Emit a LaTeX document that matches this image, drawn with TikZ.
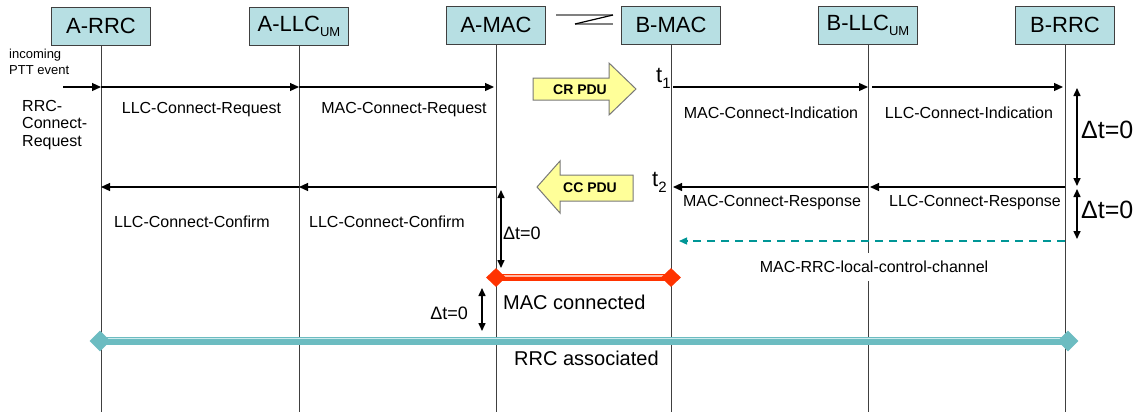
\documentclass[tikz,border=0pt]{standalone}
\usepackage{fontspec}
\setmainfont{Liberation Sans}
\usetikzlibrary{arrows.meta,shapes.geometric}

\definecolor{boxfill}{RGB}{183,223,227}
\definecolor{lifegray}{RGB}{64,64,64}
\definecolor{pdufill}{RGB}{255,255,153}
\definecolor{pdudraw}{RGB}{120,120,120}
\definecolor{macred}{RGB}{255,51,0}
\definecolor{macpink}{RGB}{255,185,165}
\definecolor{rrcteal}{RGB}{108,188,193}
\definecolor{rrclight}{RGB}{205,235,237}
\definecolor{ctrlteal}{RGB}{0,150,150}
\definecolor{linkgray}{RGB}{128,128,128}

% font size in bp: size, baseline skip
\newcommand\setfs[2]{\fontsize{#1bp}{#2bp}\selectfont}

\tikzset{
  entity/.style={draw=lifegray, line width=1bp, fill=boxfill,
    minimum width=99bp, minimum height=38bp, inner sep=0pt, font=\setfs{22}{24}},
  life/.style={draw=lifegray, line width=1bp},
  msg/.style={draw=black, line width=1.2bp, -{Triangle[length=9bp,width=8bp]}},
  ctrl/.style={draw=ctrlteal, line width=1.3bp, dash pattern=on 8bp off 6bp,
    -{Triangle[length=8bp,width=7bp]}},
  delta/.style={draw=black, line width=1.5bp,
    {Triangle[length=8bp,width=7bp]}-{Triangle[length=8bp,width=7bp]}},
  lbl/.style={font=\setfs{16}{17.5}, inner sep=0pt},
  dlbl/.style={font=\setfs{18}{20}, inner sep=0pt},
  biglbl/.style={font=\setfs{25}{27}, inner sep=0pt},
  state/.style={font=\setfs{20}{22}, inner sep=0pt},
  tlbl/.style={font=\setfs{22}{24}, inner sep=0pt},
  pdu/.style={fill=pdufill, draw=pdudraw, line width=1bp},
  pdutext/.style={font=\setfs{14}{16}\bfseries, inner sep=0pt},
  macdia/.style={diamond, aspect=1, fill=macred, minimum width=20bp,
    minimum height=19bp, inner sep=0pt},
  rrcdia/.style={diamond, aspect=1, fill=rrcteal, minimum width=21bp,
    minimum height=21bp, inner sep=0pt},
}

\begin{document}
\begin{tikzpicture}[x=1bp, y=-1bp]
\useasboundingbox (0,0) rectangle (1143,412);

% protocol entities
\node[entity] (arrc) at (101,26) {A-RRC};
\node[entity] (allc) at (299,26) {A-LLC\raisebox{-5bp}{\setfs{13}{13}UM}};
\node[entity] (amac) at (496,25) {A-MAC};
\node[entity] (bmac) at (671,25) {B-MAC};
\node[entity] (bllc) at (868,25) {B-LLC\raisebox{-5bp}{\setfs{13}{13}UM}};
\node[entity] (brrc) at (1065,25) {B-RRC};

% time levels
\coordinate (bot) at (0,412);
\coordinate (yreq) at (0,87);
\coordinate (yconf) at (0,187);
\coordinate (yctl) at (0,241);
\coordinate (ymc) at (0,277.5);
\coordinate (yrrc) at (0,341);

% lifelines
\foreach \e in {arrc,allc,amac,bmac,bllc,brrc}
  \draw[life] (\e.south) -- (\e.south |- bot);

% radio link symbol
\draw[linkgray, line width=1.5bp] (556,15) -- (613,15);
\draw[linkgray, line width=1.5bp] (575,24) -- (613,24);
\draw[black, line width=1.2bp] (575,24) -- (613,15);

% connect request chain
\coordinate (ptt) at (63,87);
\draw[msg] (ptt) -- (arrc.south |- yreq);
\draw[msg] (arrc.south |- yreq) -- (allc.south |- yreq);
\draw[msg] (allc.south |- yreq) -- ([xshift=-2bp]amac.south |- yreq);
\draw[msg] ([xshift=2bp]bmac.south |- yreq) -- (bllc.south |- yreq);
\draw[msg] ([xshift=4bp]bllc.south |- yreq) -- ([xshift=-2bp]brrc.south |- yreq);

% confirm / response chain
\draw[msg] (amac.south |- yconf) -- (allc.south |- yconf);
\draw[msg] (allc.south |- yconf) -- (arrc.south |- yconf);
\draw[msg] (brrc.south |- yconf) -- ([xshift=2bp]bllc.south |- yconf);
\draw[msg] (bllc.south |- yconf) -- ([xshift=2bp]bmac.south |- yconf);

% local control channel
\draw[ctrl] (brrc.south |- yctl) -- ([xshift=8bp]bmac.south |- yctl);
\node[lbl, fill=white, inner xsep=2bp, inner ysep=8bp] (ctltxt) at (874,267)
  {MAC-RRC-local-control-channel};

% PDU arrows over the air
\draw[pdu] (533,78) -- (609,78) -- (609,63) -- (636,89) -- (609,115)
  -- (609,100) -- (533,100) -- cycle;
\node[pdutext] (crpdu) at (580,90) {CR PDU};
\draw[pdu] (633,175) -- (560,175) -- (560,161) -- (537,187) -- (560,213)
  -- (560,201) -- (633,201) -- cycle;
\node[pdutext] (ccpdu) at (590,188) {CC PDU};

% time marks
\node[tlbl, anchor=base west] (t1) at (656,82) {t\raisebox{-6bp}{\setfs{15}{15}1}};
\node[tlbl, anchor=base west] (t2) at (652,186) {t\raisebox{-6bp}{\setfs{15}{15}2}};

% message labels
\node[font=\setfs{13}{16}, inner sep=0pt, align=left, anchor=west] (ptttxt) at (9,62)
  {incoming\\PTT event};
\node[lbl, align=left, anchor=west] (rrcreq) at (22,125) {RRC-\\Connect-\\Request};
\node[lbl] (llcreq) at (201.5,110) {LLC-Connect-Request};
\node[lbl] (macreq) at (404,110) {MAC-Connect-Request};
\node[lbl] (macind) at (771,113) {MAC-Connect-Indication};
\node[lbl] (llcind) at (969,113) {LLC-Connect-Indication};
\node[lbl] (llccnf1) at (192,222) {LLC-Connect-Confirm};
\node[lbl] (llccnf2) at (387,222) {LLC-Connect-Confirm};
\node[lbl] (macrsp) at (772,203) {MAC-Connect-Response};
\node[lbl] (llcrsp) at (975,203) {LLC-Connect-Response};

% zero-delay markers
\draw[delta] (501,190) -- (501,268);
\node[dlbl, anchor=west] (dt1) at (503,233) {Δt=0};
\draw[delta] (482,288) -- (482,331);
\node[dlbl, anchor=east] (dt2) at (468,313) {Δt=0};
\draw[delta] (1077,88) -- (1077,186);
\node[biglbl, anchor=west] (dt3) at (1081,130) {Δt=0};
\draw[delta] (1077,189) -- (1077,239);
\node[biglbl, anchor=west] (dt4) at (1081,210) {Δt=0};

% MAC connection bar
\coordinate (mcl) at (amac.south |- ymc);
\coordinate (mcr) at (bmac.south |- ymc);
\draw[macred, line width=6.5bp] (mcl) -- (mcr);
\draw[macpink, line width=1.2bp] ([yshift=1.5bp]mcl) -- ([yshift=1.5bp]mcr);
\node[macdia] (mcld) at (mcl) {};
\node[macdia] (mcrd) at (mcr) {};
\node[state, anchor=west] (macconn) at (503,302) {MAC connected};

% RRC association bar
\coordinate (rrl) at ([xshift=-1bp]arrc.south |- yrrc);
\coordinate (rrr) at ([xshift=3bp]brrc.south |- yrrc);
\draw[rrcteal, line width=7.5bp] (rrl) -- (rrr);
\draw[rrclight, line width=1.3bp] ([yshift=2.5bp]rrl) -- ([yshift=2.5bp]rrr);
\node[rrcdia] (rrld) at (rrl) {};
\node[rrcdia] (rrrd) at (rrr) {};
\node[state, anchor=west] (rrcassoc) at (514,358) {RRC associated};
\end{tikzpicture}
\end{document}
